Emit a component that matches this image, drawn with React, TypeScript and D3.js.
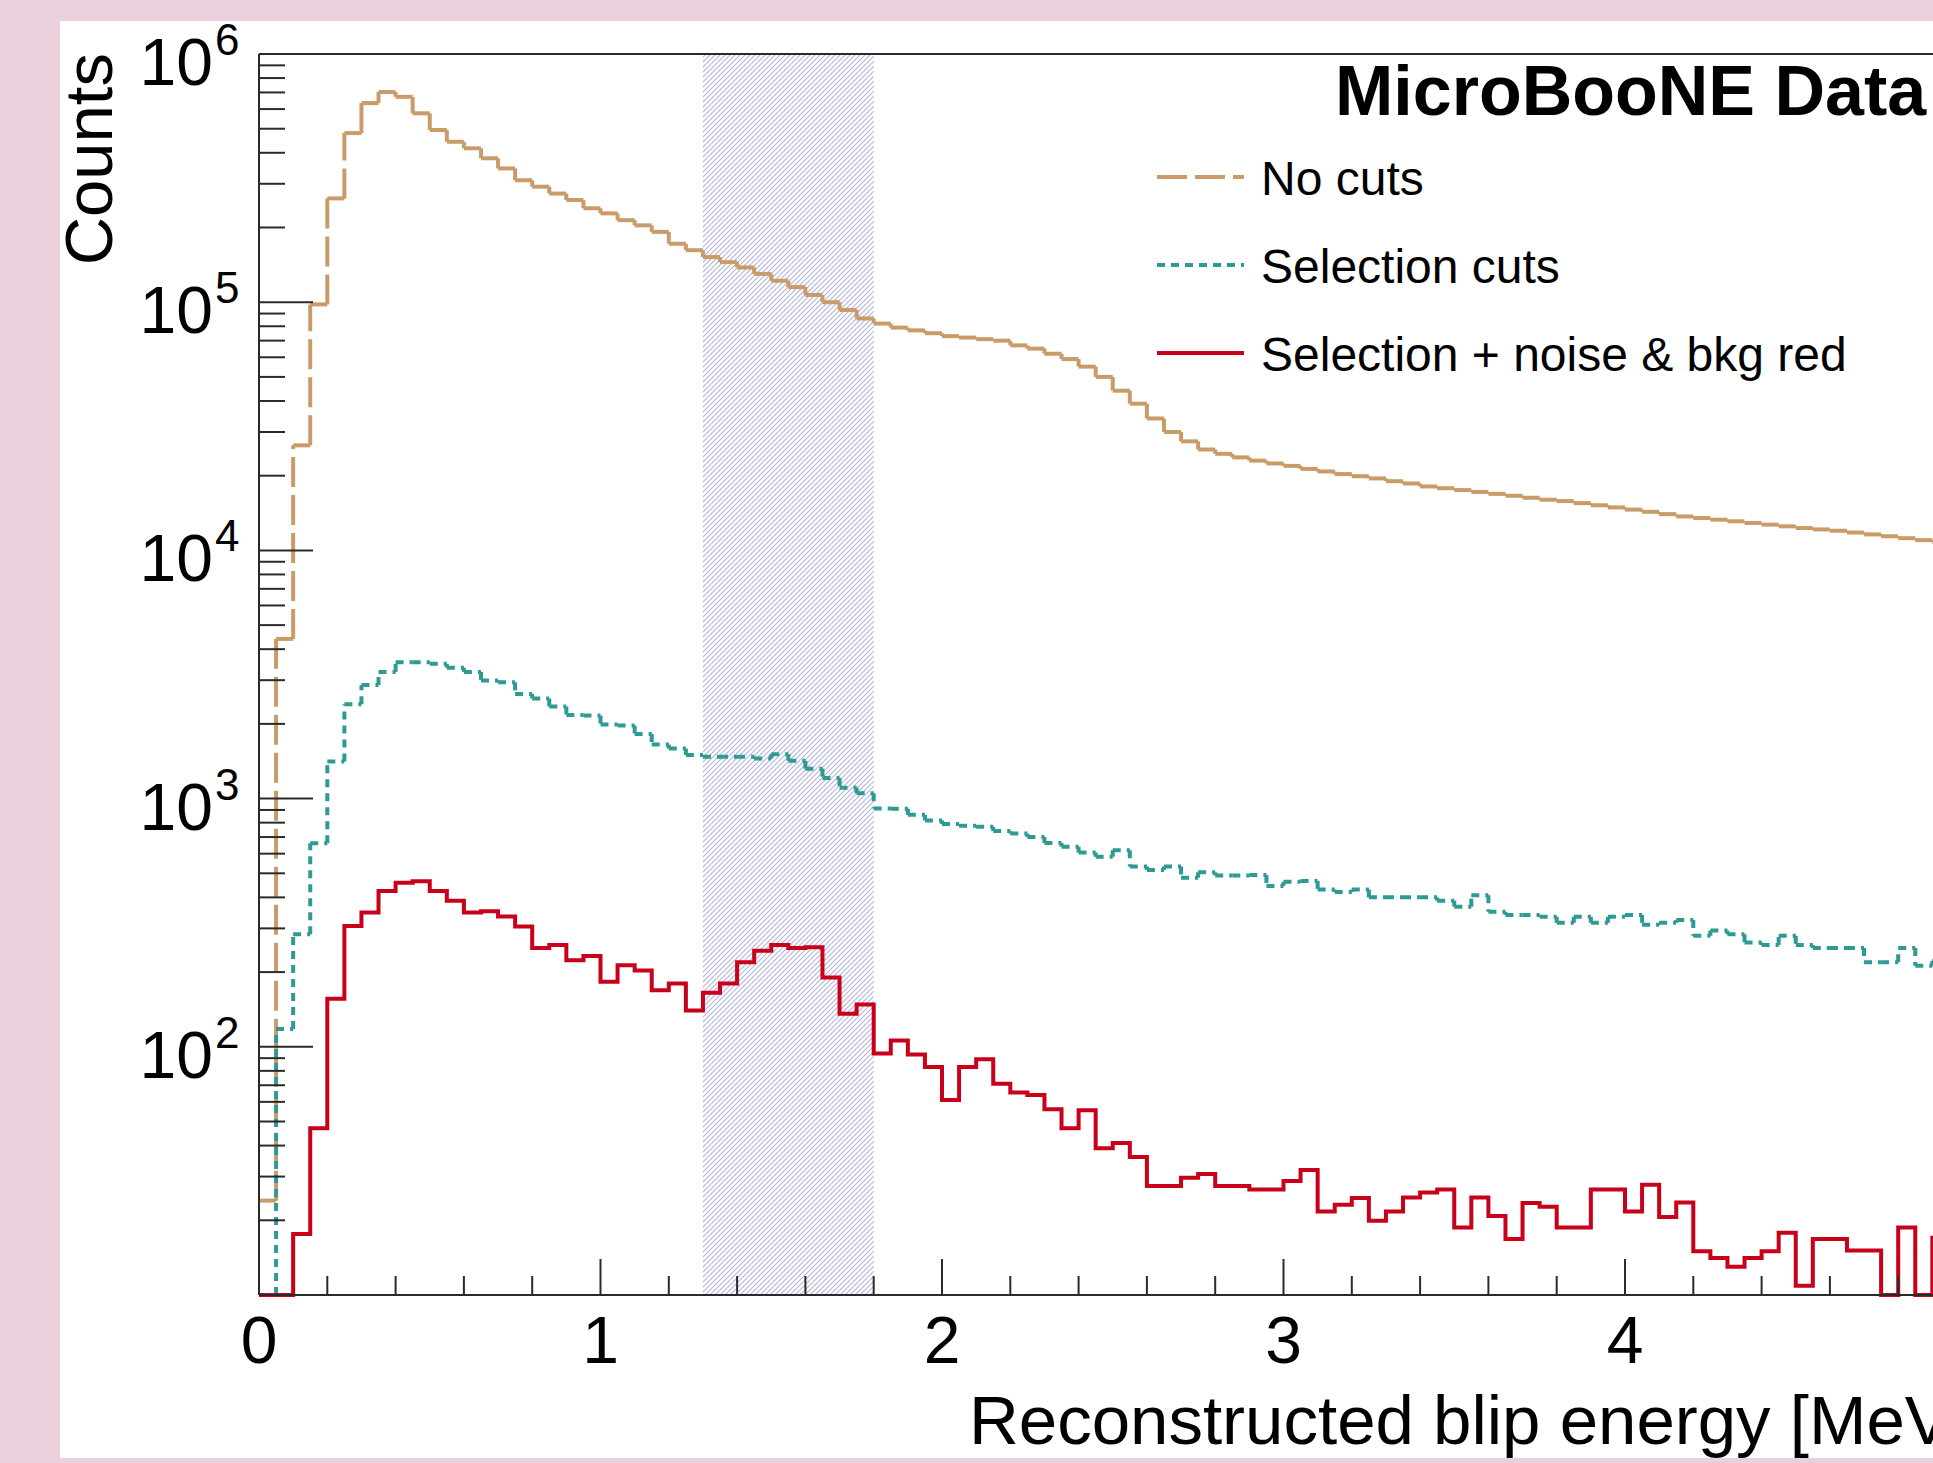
import React, { useRef, useEffect } from "react";
import * as d3 from "d3";

// histogram binning: 100 bins of 0.05 MeV from 0 to 5 MeV
const binWidth = 0.05;
const xMax = 5;

// counts per bin
const noCuts = [
  24, 4400, 26500, 98000, 262000, 480000, 634000, 703000, 672000, 577000,
  494000, 443000, 417000, 380000, 346000, 310000, 292000, 274000, 258000, 239000,
  228000, 214000, 204000, 192000, 172000, 162000, 152000, 145000, 138000, 130000,
  122000, 115000, 107000, 100000, 93000, 86000, 82000, 79000, 77000, 75000,
  73000, 72000, 71000, 70000, 67000, 65000, 62000, 59000, 55000, 50000,
  44000, 39000, 34000, 30000, 27500, 25500, 24500, 23700, 23000, 22400,
  21900, 21300, 20800, 20300, 19900, 19500, 19000, 18600, 18100, 17800,
  17500, 17200, 16900, 16600, 16300, 16000, 15800, 15500, 15200, 14900,
  14600, 14300, 14000, 13700, 13500, 13300, 13100, 12900, 12700, 12500,
  12300, 12150, 12000, 11800, 11600, 11400, 11200, 11000, 10800, 10600,
];

const selectionCuts = [
  0, 118, 284, 661, 1410, 2400, 2870, 3240, 3540, 3540,
  3490, 3370, 3240, 2990, 2940, 2640, 2530, 2350, 2170, 2160,
  1990, 1970, 1820, 1650, 1590, 1500, 1475, 1475, 1475, 1450,
  1510, 1420, 1320, 1210, 1107, 1050, 912, 910, 860, 817,
  790, 778, 770, 740, 723, 700, 662, 640, 606, 583,
  620, 533, 516, 533, 480, 505, 490, 490, 492, 445,
  462, 466, 430, 420, 430, 400, 400, 400, 400, 388,
  367, 408, 350, 340, 340, 334, 316, 334, 316, 334,
  340, 310, 316, 324, 280, 294, 284, 263, 257, 280,
  257, 250, 250, 250, 219, 219, 250, 212, 222, 215,
];

const selectionNoiseBkg = [
  0, 0, 17.6, 47, 156, 307, 348, 424, 458, 465,
  424, 388, 348, 352, 335, 305, 250, 257, 223, 232,
  183, 213, 203, 169, 180, 140, 165, 180, 219, 244,
  257, 250, 252, 190, 136, 148, 94, 106, 93, 83,
  61, 83, 89, 71, 65.5, 64, 56, 47, 55.5, 39,
  41, 36, 27.5, 27.5, 29.7, 30.7, 27.5, 27.5, 26.6, 26.6,
  28.8, 31.9, 21.7, 23.1, 24.6, 19.9, 21.7, 24.7, 25.9, 26.6,
  18.7, 24.7, 20.8, 16.8, 23.5, 22.7, 18.7, 18.7, 26.6, 26.6,
  21.7, 27.8, 20.6, 23.6, 15.0, 14.1, 13.0, 14.1, 15.0, 17.8,
  10.9, 16.8, 16.8, 15.1, 15.1, 0, 18.7, 0, 17, 15,
];

// the last label (5) sits past the right edge of the pad, as in the original
const xTickLabels = [0, 1, 2, 3, 4];
const yDecades = [2, 3, 4, 5, 6];
const signalWindow = [1.3, 1.8];
const legendTitle = "MicroBooNE Data";
const legendLabels = ["No cuts", "Selection cuts", "Selection + noise & bkg red"];
const seriesColors = ["#c99b69", "#2e9a94", "#c8001a"];
const seriesDash = ["30 8", "8 6", null];

export default function App() {
  const ref = useRef<SVGSVGElement>(null);

  useEffect(() => {
    const width = 1933;
    const height = 1463;
    const left = 259;
    const top = 54;
    const bottom = 1295;
    const right = 259 + 5 * 341.5;
    const font = "'Liberation Sans', Arial, Helvetica, sans-serif";

    const svg = d3.select(ref.current);
    svg.selectAll("*").remove();
    svg.attr("width", width).attr("height", height);

    const x = d3.scaleLinear().domain([0, xMax]).range([left, right]);
    const y = d3.scaleLog().domain([10, 1e6]).range([bottom, top]);

    // page + pad
    svg.append("rect").attr("width", width).attr("height", height).attr("fill", "#ead0dc");
    svg.append("rect")
      .attr("x", 60).attr("y", 21)
      .attr("width", width - 60).attr("height", 1437)
      .attr("fill", "#ffffff");

    // hatched signal window
    const defs = svg.append("defs");
    const pat = defs.append("pattern")
      .attr("id", "hatch")
      .attr("patternUnits", "userSpaceOnUse")
      .attr("width", 5).attr("height", 5);
    pat.append("path")
      .attr("d", "M-1,1 l2,-2 M0,5 l5,-5 M4,6 l2,-2")
      .attr("stroke", "#afb3d6")
      .attr("stroke-width", 1.1);

    svg.append("rect")
      .attr("x", x(signalWindow[0]))
      .attr("y", top)
      .attr("width", x(signalWindow[1]) - x(signalWindow[0]))
      .attr("height", bottom - top)
      .attr("fill", "url(#hatch)");

    // histograms
    const yv = (v: number) => (v > 10 ? y(v) : bottom);
    const line = d3.line<[number, number]>()
      .x(d => x(d[0]))
      .y(d => yv(d[1]))
      .curve(d3.curveStepAfter);

    const series = [noCuts, selectionCuts, selectionNoiseBkg];
    series.forEach((vals, k) => {
      const dash = seriesDash[k];
      if (!dash) {
        const pts: [number, number][] = vals.map((v, i) => [i * binWidth, v]);
        pts.push([xMax, vals[vals.length - 1]]);
        svg.append("path")
          .attr("d", line(pts))
          .attr("fill", "none")
          .attr("stroke", seriesColors[k])
          .attr("stroke-width", 4);
        return;
      }
      // dashed outlines: the dash pattern restarts on every segment
      const g = svg.append("g")
        .attr("stroke", seriesColors[k])
        .attr("stroke-width", 4)
        .attr("stroke-dasharray", dash);
      vals.forEach((v, i) => {
        const x0 = x(i * binWidth);
        const x1 = x((i + 1) * binWidth);
        g.append("line").attr("x1", x0).attr("x2", x1).attr("y1", yv(v)).attr("y2", yv(v));
        if (i < vals.length - 1 && yv(vals[i + 1]) !== yv(v)) {
          g.append("line").attr("x1", x1).attr("x2", x1).attr("y1", yv(v)).attr("y2", yv(vals[i + 1]));
        }
      });
    });

    // axes
    const axis = svg.append("g").attr("stroke", "#2a2a2a").attr("stroke-width", 2);
    axis.append("line").attr("x1", left).attr("x2", width + 10).attr("y1", top).attr("y2", top);
    axis.append("line").attr("x1", left).attr("x2", left).attr("y1", top).attr("y2", bottom);
    axis.append("line").attr("x1", left).attr("x2", width + 10).attr("y1", bottom).attr("y2", bottom);

    const xMinor = d3.range(0, xMax + 0.001, 0.2);
    xMinor.forEach(t => {
      const major = Math.abs(t - Math.round(t)) < 1e-6;
      axis.append("line")
        .attr("x1", x(t)).attr("x2", x(t))
        .attr("y1", bottom).attr("y2", bottom - (major ? 36 : 19));
    });

    y.ticks().forEach(t => {
      const major = Math.abs(Math.log10(t) - Math.round(Math.log10(t))) < 1e-6;
      axis.append("line")
        .attr("x1", left).attr("x2", left + (major ? 54 : 26))
        .attr("y1", y(t)).attr("y2", y(t));
    });

    // tick labels
    const labels = svg.append("g").attr("font-family", font).attr("fill", "#000");
    xTickLabels.forEach(t => {
      labels.append("text")
        .attr("x", x(t)).attr("y", 1363)
        .attr("text-anchor", "middle")
        .attr("font-size", 66)
        .text(String(t));
    });
    yDecades.forEach(e => {
      const ty = y(Math.pow(10, e));
      labels.append("text")
        .attr("x", 213).attr("y", ty + 31)
        .attr("text-anchor", "end")
        .attr("font-size", 66)
        .text("10");
      labels.append("text")
        .attr("x", 215).attr("y", ty + 1)
        .attr("font-size", 44)
        .text(String(e));
    });

    // axis titles
    labels.append("text")
      .attr("x", 969).attr("y", 1444)
      .attr("font-size", 69)
      .text("Reconstructed blip energy [MeV]");
    labels.append("text")
      .attr("transform", "translate(112,53) rotate(-90)")
      .attr("text-anchor", "end")
      .attr("font-size", 67)
      .text("Counts");

    // legend
    const leg = svg.append("g").attr("font-family", font);
    leg.append("text")
      .attr("x", 1335).attr("y", 115)
      .attr("font-size", 70).attr("font-weight", "bold")
      .text(legendTitle);
    legendLabels.forEach((lab, k) => {
      const by = 195 + k * 88;
      const l = leg.append("line")
        .attr("x1", 1157).attr("x2", 1244)
        .attr("y1", by - 18).attr("y2", by - 18)
        .attr("stroke", seriesColors[k])
        .attr("stroke-width", 4);
      if (seriesDash[k]) l.attr("stroke-dasharray", seriesDash[k]);
      leg.append("text")
        .attr("x", 1261).attr("y", by)
        .attr("font-size", 48)
        .text(lab);
    });
  }, []);

  return <svg ref={ref} style={{ position: "absolute", left: 0, top: 0 }}></svg>;
}
